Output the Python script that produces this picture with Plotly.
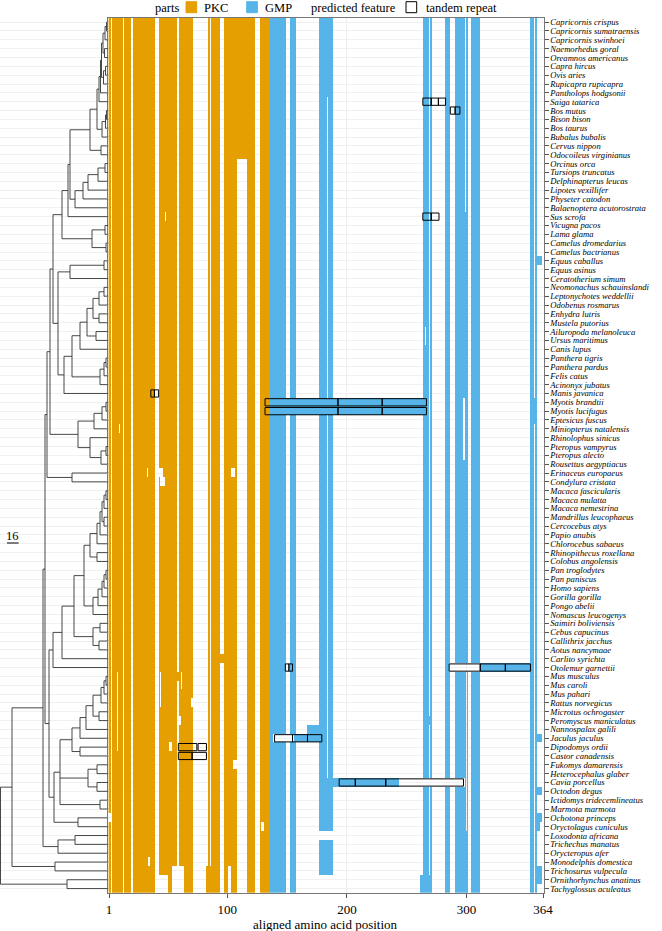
import numpy as np
import plotly.graph_objects as go

species = [
    "Capricornis crispus", "Capricornis sumatraensis", "Capricornis swinhoei", "Naemorhedus goral",
    "Oreamnos americanus", "Capra hircus", "Ovis aries", "Rupicapra rupicapra", "Pantholops hodgsonii",
    "Saiga tatarica", "Bos mutus", "Bison bison", "Bos taurus", "Bubalus bubalis", "Cervus nippon",
    "Odocoileus virginianus", "Orcinus orca", "Tursiops truncatus", "Delphinapterus leucas",
    "Lipotes vexillifer", "Physeter catodon", "Balaenoptera acutorostrata", "Sus scrofa", "Vicugna pacos",
    "Lama glama", "Camelus dromedarius", "Camelus bactrianus", "Equus caballus", "Equus asinus",
    "Ceratotherium simum", "Neomonachus schauinslandi", "Leptonychotes weddellii", "Odobenus rosmarus",
    "Enhydra lutris", "Mustela putorius", "Ailuropoda melanoleuca", "Ursus maritimus", "Canis lupus",
    "Panthera tigris", "Panthera pardus", "Felis catus", "Acinonyx jubatus", "Manis javanica",
    "Myotis brandtii", "Myotis lucifugus", "Eptesicus fuscus", "Miniopterus natalensis",
    "Rhinolophus sinicus", "Pteropus vampyrus", "Pteropus alecto", "Rousettus aegyptiacus",
    "Erinaceus europaeus", "Condylura cristata", "Macaca fascicularis", "Macaca mulatta",
    "Macaca nemestrina", "Mandrillus leucophaeus", "Cercocebus atys", "Papio anubis",
    "Chlorocebus sabaeus", "Rhinopithecus roxellana", "Colobus angolensis", "Pan troglodytes",
    "Pan paniscus", "Homo sapiens", "Gorilla gorilla", "Pongo abelii", "Nomascus leucogenys",
    "Saimiri boliviensis", "Cebus capucinus", "Callithrix jacchus", "Aotus nancymaae", "Carlito syrichta",
    "Otolemur garnettii", "Mus musculus", "Mus caroli", "Mus pahari", "Rattus norvegicus",
    "Microtus ochrogaster", "Peromyscus maniculatus", "Nannospalax galili", "Jaculus jaculus",
    "Dipodomys ordii", "Castor canadensis", "Fukomys damarensis", "Heterocephalus glaber",
    "Cavia porcellus", "Octodon degus", "Ictidomys tridecemlineatus", "Marmota marmota",
    "Ochotona princeps", "Oryctolagus cuniculus", "Loxodonta africana", "Trichechus manatus",
    "Orycteropus afer", "Monodelphis domestica", "Trichosurus vulpecula", "Ornithorhynchus anatinus",
    "Tachyglossus aculeatus",
]
n_pos = 364

# blocks of aligned positions shared by most sequences (first, last)
pkc_blocks = [(1, 2), (4, 12), (14, 19), (22, 39), (43, 57), (60, 71), (84, 85), (87, 93),
              (98, 123), (128, 135)]
gmp_blocks = [(136, 149), (153, 157), (177, 188), (264, 268), (270, 271), (283, 286),
              (291, 301), (304, 311), (354, 356), (358, 359)]

# row specific differences: (first row, last row, first pos, last pos, part) 0 = gap, 1 = PKC, 2 = GMP
row_edits = [
    (16, 98, 109, 116, 0), (9, 86, 184, 184, 0), (0, 21, 299, 299, 0),
    (43, 44, 136, 266, 2), (43, 45, 357, 357, 2), (27, 27, 360, 363, 2),
    (80, 80, 167, 176, 2), (81, 81, 139, 155, 0), (81, 81, 156, 176, 2),
    (73, 73, 286, 311, 0), (73, 73, 312, 353, 2), (86, 86, 177, 243, 2), (86, 86, 244, 298, 0),
    (72, 72, 94, 97, 1), (22, 22, 48, 48, 0), (46, 46, 10, 10, 0), (74, 74, 58, 59, 1),
    (51, 51, 41, 46, 0), (52, 52, 44, 47, 0), (51, 51, 104, 106, 0), (51, 51, 33, 33, 0),
    (74, 82, 8, 8, 0), (74, 77, 44, 44, 0), (74, 75, 62, 62, 0), (77, 77, 70, 71, 0),
    (82, 82, 52, 53, 0), (79, 79, 60, 61, 0), (84, 84, 105, 108, 0), (90, 90, 1, 2, 0),
    (91, 91, 129, 130, 0), (95, 95, 34, 35, 0), (96, 98, 83, 93, 1), (96, 98, 101, 103, 0),
    (97, 98, 40, 50, 0), (96, 98, 54, 63, 0), (97, 98, 177, 188, 0), (92, 92, 177, 188, 0),
    (79, 79, 269, 269, 2), (97, 98, 262, 271, 2), (35, 36, 266, 266, 0), (43, 49, 298, 298, 0),
    (74, 91, 300, 300, 0),
    (81, 81, 360, 363, 2), (87, 87, 360, 363, 2), (90, 90, 360, 363, 2), (91, 91, 360, 361, 2),
    (96, 97, 360, 363, 2),
]

# tandem repeats: row and unit borders (alignment positions)
repeats = [
    (9, [263.5, 270.5, 276.5, 282.5]), (10, [286.5, 290.5, 294.5]), (22, [263.5, 270.5, 277]),
    (42, [36, 39, 42.5]), (43, [131.5, 192.5, 229.5, 266.5]), (44, [131.5, 192.5, 229.5, 266.5]),
    (73, [148.5, 151.5, 154.5]), (73, [285.5, 311.5, 332.5, 353.5]),
    (81, [139.5, 154.5, 167, 179]), (82, [59, 74.5]), (82, [75.5, 82.5]), (83, [59, 70.5, 82.5]),
    (86, [193.5, 207, 232.5, 297.5]),
]

# tree clades: (first leaf, last leaf, node depth)
clades = [
    (0, 1, 106.5), (0, 2, 105), (3, 4, 104.5), (0, 4, 103), (5, 6, 105.5), (5, 7, 103.5), (0, 7, 101.5),
    (0, 8, 100.5), (0, 9, 99), (10, 11, 106.5), (10, 12, 105.5), (10, 13, 102), (0, 13, 97),
    (14, 15, 101), (0, 15, 90), (16, 17, 105), (16, 18, 98), (16, 19, 88), (16, 20, 83), (16, 21, 75),
    (0, 21, 70), (0, 22, 68), (23, 24, 105), (25, 26, 106), (23, 26, 92), (0, 26, 62),
    (27, 28, 104), (27, 29, 70), (30, 31, 104), (30, 32, 99), (33, 34, 99), (30, 34, 93),
    (35, 36, 96), (30, 36, 87), (30, 37, 80), (38, 39, 106), (38, 40, 104), (38, 41, 100),
    (30, 41, 72), (30, 42, 64), (27, 42, 58), (0, 42, 53), (43, 44, 106), (43, 45, 102),
    (43, 46, 94), (48, 49, 106), (48, 50, 101), (47, 50, 90), (43, 50, 78), (0, 50, 50),
    (51, 52, 72), (0, 52, 47), (53, 54, 106), (53, 55, 104), (56, 57, 104), (53, 57, 102),
    (53, 58, 100), (53, 59, 97), (60, 61, 97), (53, 61, 90), (62, 63, 106), (62, 64, 104),
    (62, 65, 102), (62, 66, 98), (62, 67, 93), (53, 67, 84), (68, 69, 100), (70, 71, 99),
    (68, 71, 93), (53, 71, 74), (53, 72, 62), (53, 73, 53), (74, 75, 106), (74, 76, 104),
    (74, 77, 101), (78, 79, 99), (74, 79, 93), (74, 80, 86), (74, 81, 80), (82, 83, 80),
    (74, 83, 72), (84, 85, 97), (86, 87, 97), (84, 87, 88), (88, 89, 100), (74, 89, 60),
    (90, 91, 78), (74, 91, 54), (53, 91, 49), (0, 91, 45), (92, 93, 75), (92, 94, 58),
    (0, 94, 43), (95, 96, 55), (0, 96, 12), (97, 98, 67), (0, 98, 0.5),
]
tip_depth = 108.4

PKC, GMP = "#E69F00", "#56B4E9"
W, H = 662, 931
X0, X1, Y0, Y1 = 108.4, 543.6, 17.7, 893
serif = "Liberation Serif, Times New Roman, serif"

n = len(species)
z = np.full((n, n_pos), np.nan)
for a, b in pkc_blocks:
    z[:, a - 1:b] = 1
for a, b in gmp_blocks:
    z[:, a - 1:b] = 2
for r0, r1, a, b, v in row_edits:
    z[r0:r1 + 1, a - 1:b] = np.nan if v == 0 else v

fig = go.Figure()
fig.add_trace(go.Heatmap(
    z=z, x=list(range(1, n_pos + 1)), y=list(range(n)),
    colorscale=[[0, PKC], [0.5, PKC], [0.5, GMP], [1, GMP]], zmin=1, zmax=2,
    showscale=False, hoverinfo="skip"))

# tandem repeat boxes
rb_y, rb_base, rb_len = [], [], []
for row, edges in repeats:
    for a, b in zip(edges[:-1], edges[1:]):
        rb_y.append(row)
        rb_base.append(a)
        rb_len.append(b - a)
fig.add_trace(go.Bar(
    y=rb_y, x=rb_len, base=rb_base, orientation="h", width=0.82,
    marker=dict(color="rgba(0,0,0,0)", line=dict(color="black", width=1)),
    showlegend=False, hoverinfo="skip"))

# tree
sorted_clades = sorted(clades, key=lambda c: c[1] - c[0])
node_y = {}
tx, ty = [], []
for lo, hi, d in sorted_clades:
    subs = [c for c in sorted_clades if c[0] >= lo and c[1] <= hi and (c[0], c[1]) != (lo, hi)]
    maximal = [c for c in subs if not any(o != c and o[0] <= c[0] and o[1] >= c[1] for o in subs)]
    covered = set()
    for c in maximal:
        covered.update(range(c[0], c[1] + 1))
    kids = [(node_y[(c[0], c[1])], c[2]) for c in maximal]
    kids += [(float(i), tip_depth) for i in range(lo, hi + 1) if i not in covered]
    kids.sort()
    ys = [k[0] for k in kids]
    node_y[(lo, hi)] = (ys[0] + ys[-1]) / 2
    tx += [d, d, None]
    ty += [ys[0], ys[-1], None]
    for ky, kd in kids:
        tx += [d, kd, None]
        ty += [ky, ky, None]
fig.add_trace(go.Scatter(x=tx, y=ty, xaxis="x2", yaxis="y", mode="lines",
                         line=dict(color="#333333", width=0.9), showlegend=False, hoverinfo="skip"))

fig.update_layout(
    width=W, height=H, margin=dict(l=0, r=0, t=0, b=0),
    paper_bgcolor="white", plot_bgcolor="white", barmode="overlay",
    font=dict(family=serif, color="black"),
    xaxis=dict(domain=[X0 / W, X1 / W], range=[0.5, n_pos + 0.5], tickvals=[1, 100, 200, 300, 364],
               ticks="outside", ticklen=4, tickcolor="#555", showline=True, mirror=True,
               linecolor="#777", linewidth=1, showgrid=True, gridcolor="#EEEEEE", gridwidth=1,
               zeroline=False, tickfont=dict(size=13, family=serif), automargin=False,
               anchor="y"),
    xaxis2=dict(domain=[0, X0 / W], range=[0, X0], visible=False, anchor="y"),
    yaxis=dict(domain=[1 - Y1 / H, 1 - Y0 / H], range=[n - 0.5, -0.5], tickvals=list(range(n)),
               ticktext=["<i>%s</i>" % s for s in species], side="right", ticks="outside",
               ticklen=4, tickcolor="#555", showline=True, mirror=True, linecolor="#777",
               linewidth=1, showgrid=True, gridcolor="#F0F0F0", gridwidth=1, zeroline=False,
               tickfont=dict(size=8.6, family=serif), automargin=False, anchor="x"),
)

def px(x, y):
    return x / W, 1 - y / H

ann = []
for text, x in [("parts", 153.3), ("PKC", 201.7), ("GMP", 262.7),
                ("predicted feature", 309.3), ("tandem repeat", 424)]:
    ax, ay = px(x, 8)
    ann.append(dict(text=text, x=ax, y=ay, xref="paper", yref="paper", xanchor="left",
                    yanchor="middle", showarrow=False, font=dict(size=12.5, family=serif)))
ax, ay = px(325.5, 924)
ann.append(dict(text="aligned amino acid position", x=ax, y=ay, xref="paper", yref="paper",
                xanchor="center", yanchor="middle", showarrow=False, font=dict(size=13, family=serif)))
ax, ay = px(12.8, 535.5)
ann.append(dict(text="16", x=ax, y=ay, xref="paper", yref="paper", xanchor="center",
                yanchor="middle", showarrow=False, font=dict(size=12.5, family=serif)))
fig.update_layout(annotations=ann)

shapes = []
for x, col, lc in [(186, PKC, PKC), (246.7, GMP, GMP), (406, "white", "black")]:
    a, b = px(x, 1.7)
    c, d = px(x + 10.7, 12.7)
    shapes.append(dict(type="rect", xref="paper", yref="paper", x0=a, x1=c, y0=d, y1=b,
                       fillcolor=col, line=dict(color=lc, width=1)))
a, b = px(7, 543)
c, _ = px(18.6, 543)
shapes.append(dict(type="line", xref="paper", yref="paper", x0=a, x1=c, y0=b, y1=b,
                   line=dict(color="black", width=1)))
fig.update_layout(shapes=shapes)

# page body has a default margin; drop it so the figure sits at the window corner
fig.write_html("out.html", config={"displayModeBar": False},
               post_script="document.body.style.margin='0px';")
